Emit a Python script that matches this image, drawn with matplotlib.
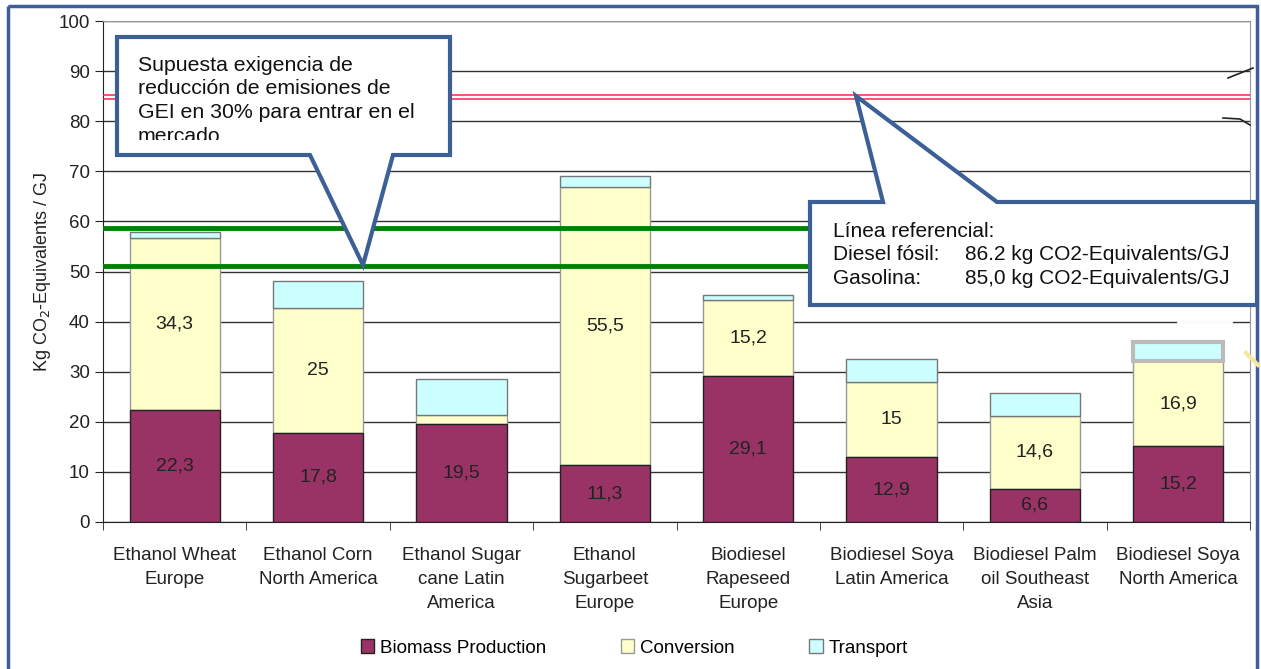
import matplotlib.pyplot as plt
from matplotlib.patches import Polygon, Rectangle
from matplotlib.transforms import Bbox, TransformedBbox
import numpy as np

plt.rcParams['font.family'] = ['Liberation Sans', 'DejaVu Sans']

# data (kg CO2-eq / GJ)
categories = ['Ethanol Wheat\nEurope', 'Ethanol Corn\nNorth America',
              'Ethanol Sugar\ncane Latin\nAmerica', 'Ethanol\nSugarbeet\nEurope',
              'Biodiesel\nRapeseed\nEurope', 'Biodiesel Soya\nLatin America',
              'Biodiesel Palm\noil Southeast\nAsia', 'Biodiesel Soya\nNorth America']
biomass = [22.3, 17.8, 19.5, 11.3, 29.1, 12.9, 6.6, 15.2]
conversion = [34.3, 25.0, 1.8, 55.5, 15.2, 15.0, 14.6, 16.9]
transport = [1.2, 5.3, 7.2, 2.2, 1.0, 4.7, 4.6, 3.9]
biomass_labels = ['22,3', '17,8', '19,5', '11,3', '29,1', '12,9', '6,6', '15,2']
conversion_labels = ['34,3', '25', '', '55,5', '15,2', '15', '14,6', '16,9']
green_levels = [58.6, 51.1]
red_levels = [85.2, 84.5]

blue = '#3C6095'

fig = plt.figure(figsize=(12.61, 6.69), dpi=100)
ax = fig.add_axes([103/1261, 1 - 522/669, 1147/1261, 501/669])

x = np.arange(len(categories))
w = 0.63
bot2 = np.array(biomass) + np.array(conversion)
b1 = ax.bar(x, biomass, w, color='#993366', edgecolor='#222222', lw=1, zorder=3, label='Biomass Production')
b2 = ax.bar(x, conversion, w, bottom=biomass, color='#FFFFCC', edgecolor='#999999', lw=1, zorder=2, label='Conversion')
b3 = ax.bar(x, transport, w, bottom=bot2, color='#CCFFFF', edgecolor='#777777', lw=1, zorder=2, label='Transport')
b3[-1].set_edgecolor('#BBBBBB')
b3[-1].set_linewidth(3)

for i in range(len(x)):
    ax.text(x[i], biomass[i] / 2, biomass_labels[i], ha='center', va='center', fontsize=14, color='#222222', zorder=5)
    if conversion_labels[i]:
        ax.text(x[i], biomass[i] + conversion[i] / 2, conversion_labels[i], ha='center', va='center',
                fontsize=14, color='#222222', zorder=5)

for g in green_levels:
    ax.axhline(g, color='#008000', lw=3.5, zorder=4)
for r in red_levels:
    ax.axhline(r, color='#FF2050', lw=1.1, zorder=4)

ax.set_ylim(0, 100)
ax.set_xlim(-0.5, len(x) - 0.5)
ax.set_yticks(range(0, 101, 10))
ax.yaxis.grid(True, color='#333333', lw=1)
ax.set_axisbelow(True)
ax.set_xticks(x)
ax.set_xticklabels(categories, fontsize=13.5, color='#222222', linespacing=1.55)
ax.set_xticks(np.arange(-0.5, len(x)), minor=True)
ax.tick_params(axis='x', which='major', length=0, pad=18)
ax.tick_params(axis='x', which='minor', length=6, direction='out', color='#222222')
ax.tick_params(axis='y', length=6, direction='out', labelsize=13.5, labelcolor='#222222', color='#222222')
ax.spines['left'].set_color('#222222')
ax.spines['bottom'].set_color('#222222')
ax.spines['top'].set_color('#999999')
ax.spines['right'].set_color('#999999')
ax.set_ylabel('Kg CO$_2$-Equivalents / GJ', fontsize=13, color='#222222', labelpad=4)

fig.legend(handles=[b1, b2, b3], loc='center', bbox_to_anchor=(0.503, 1 - 648/669), ncol=3,
           frameon=False, fontsize=13.5, handlelength=0.7, handleheight=0.7, handletextpad=0.3,
           columnspacing=4.0)

# overlay in pixel coordinates for the callouts and frame
ov = fig.add_axes([0, 0, 1, 1], zorder=10)
ov.set_xlim(0, 1261)
ov.set_ylim(669, 0)
ov.axis('off')
ov.patch.set_alpha(0)

ov.add_patch(Rectangle((8, 6), 1249, 680, fill=False, ec=blue, lw=2.5))

# small stray marks at the right edge of the plot
ov.plot([1228, 1253], [78, 68], color='#222222', lw=1.2)
ov.plot([1223, 1240, 1250], [118, 119, 125], color='#222222', lw=1.2)
ov.plot([1178, 1231], [322, 322], color='white', lw=2)
ov.plot([1246, 1258], [353, 365], color='#F5E6A0', lw=3)

call1 = Polygon([(117, 37), (450, 37), (450, 155), (393, 155), (363, 265), (310, 155), (117, 155)],
                closed=True, fc='white', ec=blue, lw=3)
ov.add_patch(call1)
t1 = ov.text(138, 56, 'Supuesta exigencia de\nreducción de emisiones de\nGEI en 30% para entrar en el\nmercado',
             fontsize=15.3, va='top', ha='left', linespacing=1.3, color='#111111')
t1.set_clip_on(True)
t1.set_clip_box(TransformedBbox(Bbox([[117, 37], [450, 140]]), ov.transData))

call2 = Polygon([(810, 202), (883, 202), (856, 96), (997, 202), (1257, 202), (1257, 305), (810, 305)],
                closed=True, fc='white', ec=blue, lw=3)
ov.add_patch(call2)
ov.text(833, 237, 'Línea referencial:', fontsize=15, va='baseline', color='#111111')
ov.text(833, 260, 'Diesel fósil:', fontsize=15, va='baseline', color='#111111')
ov.text(833, 284, 'Gasolina:', fontsize=15, va='baseline', color='#111111')
ov.text(965, 260, '86.2 kg CO2-Equivalents/GJ', fontsize=15, va='baseline', color='#111111')
ov.text(965, 284, '85,0 kg CO2-Equivalents/GJ', fontsize=15, va='baseline', color='#111111')

fig.savefig('out.png', dpi=100)
